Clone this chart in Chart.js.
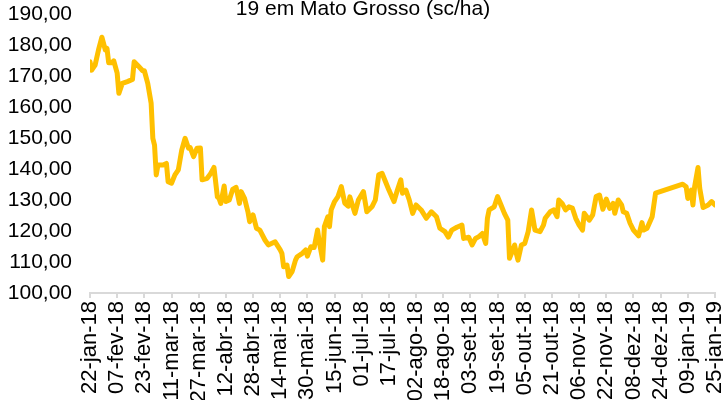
<!DOCTYPE html>
<html>
<head>
<meta charset="utf-8">
<script src="https://cdn.jsdelivr.net/npm/chart.js@4"></script>
<style>
  body { margin: 0; background: #fff; }
  #wrap { width: 723px; height: 400px; position: relative; }
</style>
</head>
<body>
<div id="wrap"><canvas id="precoChart"></canvas></div>
<script>
// --- DADOS ---
// dias contados a partir de 22-jan-18
const dias = [0,1,3,5,7,9,10,11,13,14,16,17,19,22,25,26,28,31,32,34,36,37,38,39,40,43,45,46,48,50,52,54,56,58,59,61,63,65,66,69,71,73,75,76,77,79,80,82,84,86,88,89,91,93,94,96,98,100,103,105,109,112,113,114,116,117,119,121,122,125,127,128,130,132,134,135,137,138,140,141,142,144,146,148,150,152,153,156,158,161,163,166,168,170,172,174,176,179,181,183,184,186,188,190,192,195,198,201,204,206,209,211,213,216,219,220,223,225,227,229,231,233,234,235,238,240,242,244,246,247,249,250,251,252,254,256,258,260,262,265,267,268,271,273,275,276,278,280,282,284,286,288,290,291,294,296,298,300,302,304,306,308,309,311,313,314,316,318,320,323,325,326,328,331,333,349,351,352,354,355,356,358,359,361,364,366,368];
const precos = [174.6,171.9,173.5,178.4,182.5,178.4,178.9,174.3,174.3,174.9,170.9,164.4,167.6,168.2,168.9,174.6,173.5,171.7,171.7,167.6,161.2,149.9,147.7,138.1,141.3,141.3,141.8,135.9,135.4,138.1,139.7,146.1,149.9,146.7,146.9,144.0,146.7,146.8,136.5,137.0,138.5,140.5,131.0,130.5,128.9,134.5,129.5,130.0,133.4,134.1,128.9,132.7,130.5,126.2,123.0,125.2,120.9,120.3,117.1,115.5,116.5,113.9,112.8,108.5,109.0,105.3,106.9,110.6,111.7,112.8,113.9,111.9,114.9,114.7,120.3,116.5,110.6,121.4,124.6,121.4,126.8,129.5,131.1,134.3,129.0,128.0,131.0,125.7,130.0,132.7,126.2,127.8,130.0,138.1,138.6,135.9,133.2,129.5,133.2,136.5,132.2,133.2,130.0,125.7,128.4,126.8,124.1,126.2,124.6,120.9,119.8,118.0,120.3,121.2,121.9,117.6,118.0,115.5,117.6,118.2,119.2,116.0,124.1,126.8,127.8,131.1,128.4,125.7,123.5,111.2,113.9,115.5,112.8,110.6,115.5,116.0,119.8,126.8,120.3,119.8,121.9,124.1,126.2,126.8,124.6,130.0,128.9,126.8,127.8,127.4,124.1,121.9,120.3,125.7,123.5,125.2,131.1,131.6,127.0,130.3,127.3,128.9,125.7,130.0,128.4,126.2,125.7,122.5,120.3,118.4,122.7,120.3,120.9,124.6,132.2,135.1,134.3,130.5,133.2,128.4,134.3,140.5,133.8,127.6,128.4,129.5,128.4];

// rótulos do eixo X (a cada 16 dias)
const diasTick = [0,16,32,48,64,80,96,112,128,144,160,176,192,208,224,240,256,272,288,304,320,336,352,368];
const rotulosX = ['22-jan-18','07-fev-18','23-fev-18','11-mar-18','27-mar-18','12-abr-18','28-abr-18','14-mai-18','30-mai-18','15-jun-18','01-jul-18','17-jul-18','02-ago-18','18-ago-18','03-set-18','19-set-18','05-out-18','21-out-18','06-nov-18','22-nov-18','08-dez-18','24-dez-18','09-jan-19','25-jan-19'];

const tituloLinha = '19 em Mato Grosso (sc/ha)';

const fonte = '"Liberation Sans", Arial, sans-serif';

// --- TÍTULO (só a linha visível, cortada no topo) ---
const tituloPlugin = {
    id: 'tituloCortado',
    afterDraw(chart) {
        const c = chart.ctx;
        c.save();
        c.font = '21px ' + fonte;
        c.fillStyle = '#000';
        c.textAlign = 'center';
        c.textBaseline = 'alphabetic';
        c.fillText(tituloLinha, 363, 15);
        c.restore();
    }
};

// --- GRÁFICO ---
const ctx = document.getElementById('precoChart').getContext('2d');
const precoChart = new Chart(ctx, {
    type: 'line',
    data: {
        datasets: [{
            data: dias.map((d, i) => ({ x: d, y: precos[i] })),
            borderColor: '#FFC000',
            borderWidth: 5,
            borderJoinStyle: 'round',
            borderCapStyle: 'round',
            pointRadius: 0,
            tension: 0,
            fill: false
        }]
    },
    options: {
        responsive: true,
        maintainAspectRatio: false,
        animation: false,
        layout: { padding: { top: 14, right: 8, left: 0, bottom: 0 } },
        scales: {
            x: {
                type: 'linear',
                min: 0,
                max: 368,
                afterBuildTicks: (s) => { s.ticks = diasTick.map(v => ({ value: v })); },
                afterFit: (s) => { s.height = 107; s.paddingLeft = 0; s.paddingRight = 0; },
                grid: { drawOnChartArea: false, drawTicks: true, tickLength: 5, color: '#d9d9d9', lineWidth: 2 },
                border: { color: '#d9d9d9', width: 2 },
                ticks: {
                    autoSkip: false,
                    minRotation: 90,
                    maxRotation: 90,
                    padding: 3,
                    color: '#000',
                    font: { family: fonte, size: 22 },
                    callback: (v) => rotulosX[diasTick.indexOf(v)]
                }
            },
            y: {
                min: 100,
                max: 190,
                afterFit: (s) => { s.width = 90; s.paddingTop = 0; s.paddingBottom = 0; },
                grid: { display: false, drawTicks: false },
                border: { display: false },
                ticks: {
                    stepSize: 10,
                    padding: 18,
                    color: '#000',
                    font: { family: fonte, size: 21 },
                    callback: (v) => v.toFixed(2).replace('.', ',')
                }
            }
        },
        plugins: {
            legend: { display: false },
            tooltip: { enabled: false }
        }
    },
    plugins: [tituloPlugin]
});
</script>
</body>
</html>
